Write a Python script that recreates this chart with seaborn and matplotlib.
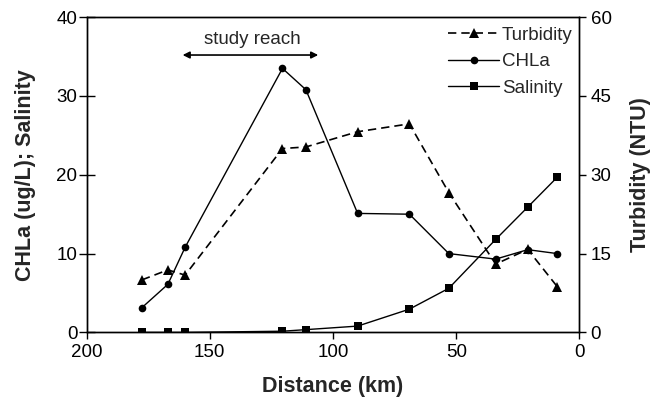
import matplotlib
matplotlib.use("Agg")
import matplotlib.pyplot as plt
import seaborn as sns
import pandas as pd
from matplotlib.lines import Line2D

sns.set_theme(style="ticks")
plt.rcParams['font.family'] = ['Liberation Sans', 'DejaVu Sans']

distance = [177.5, 167, 160, 120.5, 111, 90, 69, 53, 34, 21, 9]
chla = [3.15, 6.1, 10.8, 33.5, 30.8, 15.1, 15.0, 10.0, 9.3, 10.5, 10.0]
salinity = [0.0, 0.0, 0.0, 0.15, 0.35, 0.8, 2.95, 5.6, 11.8, 15.9, 19.7]
turbidity = [10.0, 11.9, 10.9, 35.0, 35.3, 38.2, 39.7, 26.6, 13.0, 15.8, 8.7]

left_ticks = [0, 10, 20, 30, 40]
right_ticks = [0, 15, 30, 45, 60]
x_ticks = [200, 150, 100, 50, 0]

df = pd.DataFrame({"Distance": distance, "CHLa": chla,
                   "Salinity": salinity, "Turbidity": turbidity})

fig = plt.figure(figsize=(6.57, 4.0), dpi=100)
ax = fig.add_axes([0.1317, 0.169, 0.7503, 0.788])
ax2 = ax.twinx()

dash = (0, (5, 3))
sns.lineplot(data=df, x="Distance", y="CHLa", ax=ax, color="black",
             linewidth=1.0, marker="o", markersize=5.5, markeredgewidth=0,
             sort=False)
sns.lineplot(data=df, x="Distance", y="Salinity", ax=ax, color="black",
             linewidth=1.0, marker="s", markersize=5.5, markeredgewidth=0,
             sort=False)
sns.lineplot(data=df, x="Distance", y="Turbidity", ax=ax2, color="black",
             linewidth=1.2, marker="^", markersize=6.5, markeredgewidth=0,
             linestyle=dash, sort=False)

ax.set_xlim(200, 0)
ax.set_ylim(0, 40)
ax2.set_ylim(0, 60)
ax.set_xticks(x_ticks)
ax.set_yticks(left_ticks)
ax2.set_yticks(right_ticks)

for a in (ax, ax2):
    for s in a.spines.values():
        s.set_color("black")
        s.set_linewidth(1.0)
ax.tick_params(axis="x", direction="out", length=5, width=1.0,
               colors="black", labelsize=13.5, pad=3)
ax.tick_params(axis="y", direction="inout", length=11, width=1.0,
               colors="black", labelsize=13.5, pad=1)
ax2.tick_params(axis="y", direction="out", length=5, width=1.0,
                colors="black", labelsize=13.5, pad=3)

ax.set_xlabel("Distance (km)", fontsize=15.5, fontweight="bold", labelpad=11)
ax.set_ylabel("CHLa (ug/L); Salinity", fontsize=15.5, fontweight="bold", labelpad=15)
ax2.set_ylabel("Turbidity (NTU)", fontsize=15.5, fontweight="bold", labelpad=13)

# study reach annotation
ax.annotate("", xy=(106, 35.2), xytext=(161, 35.2),
            arrowprops=dict(arrowstyle="<|-|>", color="black", lw=1.2,
                            mutation_scale=10, shrinkA=0, shrinkB=0))
ax.text(132.7, 37.2, "study reach", ha="center", va="center", fontsize=13.5)

handles = [
    Line2D([], [], color="black", linestyle=dash, linewidth=1.2,
           marker="^", markersize=6.5, markeredgewidth=0),
    Line2D([], [], color="black", linewidth=1.0, marker="o", markersize=5.5,
           markeredgewidth=0),
    Line2D([], [], color="black", linewidth=1.0, marker="s", markersize=5.5,
           markeredgewidth=0),
]
ax2.legend(handles, ["Turbidity", "CHLa", "Salinity"], loc="upper right",
           bbox_to_anchor=(1.005, 1.0), frameon=False, fontsize=13.5,
           handlelength=2.7, handletextpad=0.15, labelspacing=0.5,
           borderaxespad=0.1)

fig.savefig("out.png", dpi=100)
